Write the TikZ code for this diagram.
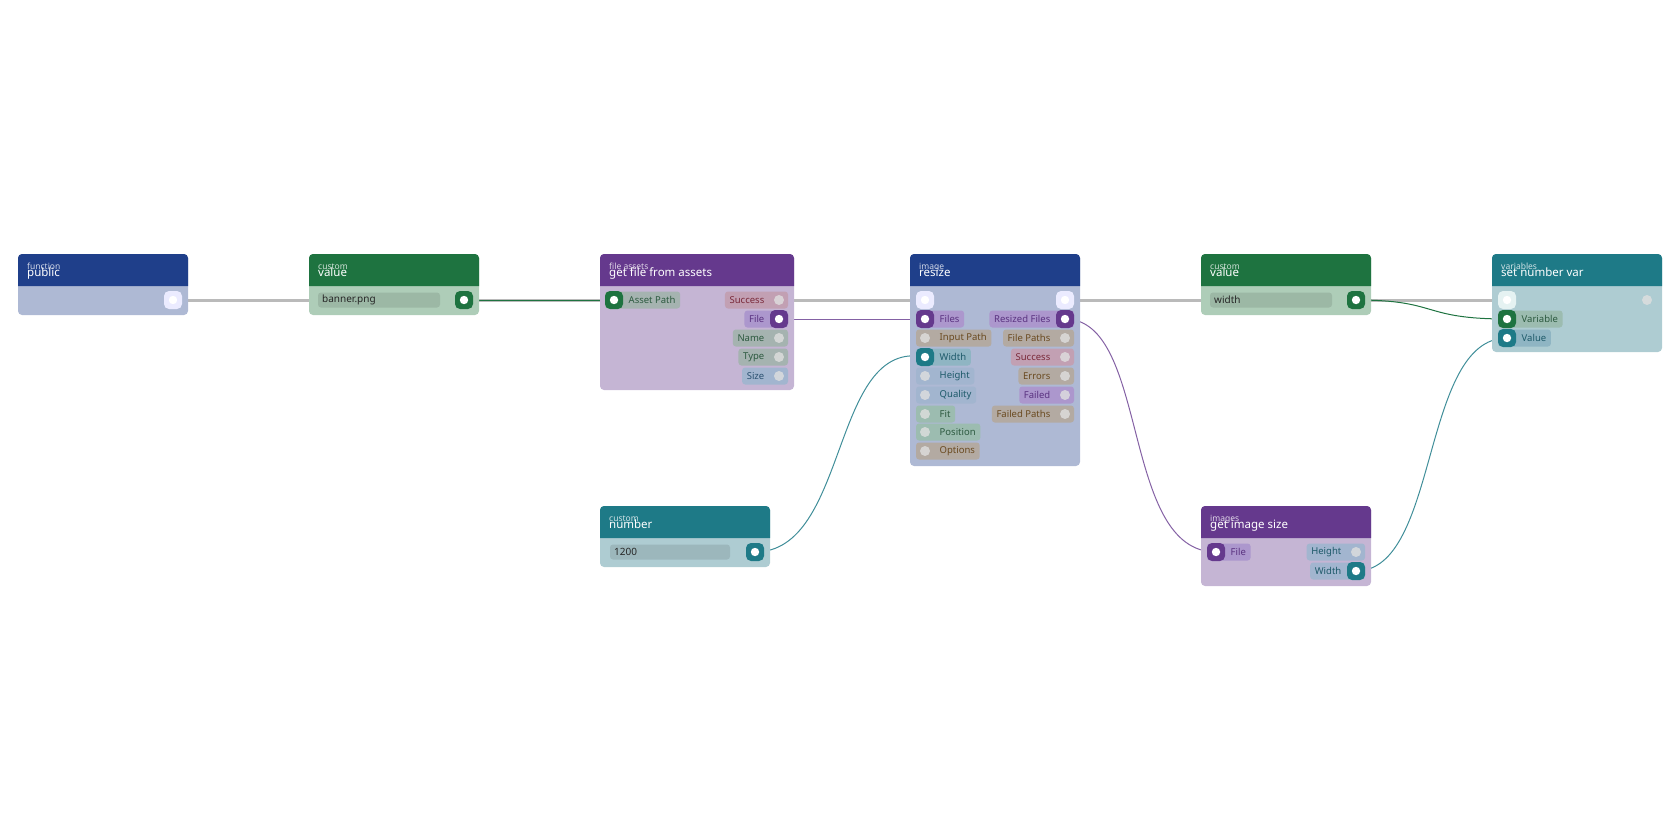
\documentclass[tikz,border=0pt]{standalone}
\usepackage{fontspec}
\setmainfont{Noto Sans}
\usetikzlibrary{calc}
\pgfdeclarelayer{edges}\pgfdeclarelayer{bodies}\pgfdeclarelayer{pills}
\pgfsetlayers{edges,bodies,pills,main}
\definecolor{hblue}{HTML}{1F3F8A}\definecolor{bblue}{HTML}{AEB9D4}
\definecolor{hgreen}{HTML}{1E7340}\definecolor{bgreen}{HTML}{AECDB8}
\definecolor{hpurp}{HTML}{65398D}\definecolor{bpurp}{HTML}{C5B5D4}
\definecolor{hteal}{HTML}{1E7A87}\definecolor{bteal}{HTML}{AECCD2}
\definecolor{pred}{HTML}{C2A0B3}\definecolor{tred}{HTML}{7A2A3A}
\definecolor{ppur}{HTML}{AC97CD}\definecolor{tpur}{HTML}{5A3280}
\definecolor{pgrn}{HTML}{A5B3B0}\definecolor{tgrn}{HTML}{2D5A40}
\definecolor{pblu}{HTML}{A2B5CF}\definecolor{tblu}{HTML}{2A5070}
\definecolor{ptan}{HTML}{B3AAA2}\definecolor{ttan}{HTML}{6A4A20}
\definecolor{ptea}{HTML}{8FB5C3}\definecolor{ttea}{HTML}{1E5A6A}
\definecolor{pgrt}{HTML}{9CBCB0}
\tikzset{
 ptxt/.style={font=\fontsize{9.5}{10}\selectfont, inner xsep=4.5pt, inner ysep=0pt},
 port/.style={draw=none, fill=#1, rounded corners=5pt, minimum size=18pt, inner sep=0,
   path picture={\fill[white] (path picture bounding box.center) circle (4.2pt);}},
 dead/.style={circle, fill=white!75!gray, minimum size=10pt, inner sep=0, opacity=0.8},
 wire/.style={line width=1pt},
 exec/.style={line width=3pt, color=black!27},
}
% body: name x1 y1 x2 y2 head body sub title
\newcommand\nbox[9]{%
 \begin{pgfonlayer}{bodies}
 \fill[#7, rounded corners=4pt] (#2,#3) rectangle (#4,#5);
 \fill[#6] (#2,#3+32) {[rounded corners=4pt] -- (#2,#3) -- (#4,#3)} -- (#4,#3+32) -- cycle;
 \end{pgfonlayer}
 \node[anchor=base west, inner sep=0, text=white!80!#6, font=\fontsize{8.5}{9}\selectfont] at (#2+9,#3+15.5) {#8};
 \node[anchor=base west, inner sep=0, text=white, font=\fontsize{11.5}{12}\selectfont] (#1) at (#2+9,#3+22) {#9};}
% left pin: name x y text pill textcol portstyle
\newcommand\lpin[7]{%
 \node[ptxt, text=#6, anchor=west] (#1t) at (#2+10,#3) {#4};
 \begin{pgfonlayer}{pills}\fill[#5, rounded corners=3pt] (#2-9,#3-8.5) rectangle ($(#1t.east)+(0,8.5)$);\end{pgfonlayer}
 \node[#7] (#1) at (#2,#3) {};}
\newcommand\rpin[7]{%
 \node[ptxt, text=#6, anchor=east] (#1t) at (#2-10,#3) {#4};
 \begin{pgfonlayer}{pills}\fill[#5, rounded corners=3pt] (#2+9,#3-8.5) rectangle ($(#1t.west)+(0,8.5)$);\end{pgfonlayer}
 \node[#7] (#1) at (#2,#3) {};}
\newcommand\field[5]{% name x1 x2 y text
 \begin{pgfonlayer}{pills}\fill[black, opacity=0.1, rounded corners=3pt] (#2,#4-7.5) rectangle (#3,#4+7.5);\end{pgfonlayer}
 \node[anchor=west, inner sep=0, text=black!85, font=\fontsize{10}{10}\selectfont] (#1) at (#2+4,#4) {#5};}
\begin{document}
\begin{tikzpicture}[x=1pt,y=-1pt]
\useasboundingbox (0,0) rectangle (1680,840);
% public
\nbox{pub}{18}{254}{188}{315}{hblue}{bblue}{function}{public}
\node[port=white!92!blue] (pubx) at (173,300) {};
% value 1
\nbox{val1}{309}{254}{479}{315}{hgreen}{bgreen}{custom}{value}
\field{val1f}{318}{440}{300}{banner.png}
\node[port=hgreen] (val1o) at (464,300) {};
% get file
\nbox{gf}{600}{254}{794}{390}{hpurp}{bpurp}{file assets}{get file from assets}
\lpin{gfa}{614}{300}{Asset Path}{pgrn}{tgrn}{port=hgreen}
\rpin{gfs}{779}{300}{Success}{pred}{tred}{dead}
\rpin{gff}{779}{319}{File}{ppur}{tpur}{port=hpurp}
\rpin{gfn}{779}{338}{Name}{pgrn}{tgrn}{dead}
\rpin{gft}{779}{357}{Type}{pgrn}{tgrn}{dead}
\rpin{gfz}{779}{376}{Size}{pblu}{tblu}{dead}
% number
\nbox{num}{600}{506}{770}{567}{hteal}{bteal}{custom}{number}
\field{numf}{610}{730}{552}{1200}
\node[port=hteal] (numo) at (755,552) {};
% resize
\nbox{rs}{910}{254}{1080}{466}{hblue}{bblue}{image}{resize}
\node[port=white!92!blue] (rsxi) at (925,300) {};
\node[port=white!92!blue] (rsxo) at (1065,300) {};
\lpin{rsf}{925}{319}{Files}{ppur}{tpur}{port=hpurp}
\lpin{rsi}{925}{338}{Input Path}{ptan}{ttan}{dead}
\lpin{rsw}{925}{357}{Width}{ptea}{ttea}{port=hteal}
\lpin{rsh}{925}{376}{Height}{pblu}{ttea}{dead}
\lpin{rsq}{925}{395}{Quality}{pblu}{ttea}{dead}
\lpin{rsfi}{925}{414}{Fit}{pgrt}{tgrn}{dead}
\lpin{rsp}{925}{432}{Position}{pgrt}{tgrn}{dead}
\lpin{rso}{925}{451}{Options}{ptan}{ttan}{dead}
\rpin{rsrf}{1065}{319}{Resized Files}{ppur}{tpur}{port=hpurp}
\rpin{rsfp}{1065}{338}{File Paths}{ptan}{ttan}{dead}
\rpin{rss}{1065}{357}{Success}{pred}{tred}{dead}
\rpin{rse}{1065}{376}{Errors}{ptan}{ttan}{dead}
\rpin{rsfa}{1065}{395}{Failed}{ppur}{tpur}{dead}
\rpin{rsfpp}{1065}{414}{Failed Paths}{ptan}{ttan}{dead}
% value 2
\nbox{val2}{1201}{254}{1371}{315}{hgreen}{bgreen}{custom}{value}
\field{val2f}{1210}{1332}{300}{width}
\node[port=hgreen] (val2o) at (1356,300) {};
% set number var
\nbox{snv}{1492}{254}{1662}{352}{hteal}{bteal}{variables}{set number var}
\node[port=white!90!teal] (snvx) at (1507,300) {};
\node[dead] (snvxo) at (1647,300) {};
\lpin{snvv}{1507}{319}{Variable}{pgrt}{tgrn}{port=hgreen}
\lpin{snvl}{1507}{338}{Value}{ptea}{ttea}{port=hteal}
% get image size
\nbox{gis}{1201}{506}{1371}{586}{hpurp}{bpurp}{images}{get image size}
\lpin{gisf}{1216}{552}{File}{ppur}{tpur}{port=hpurp}
\rpin{gish}{1356}{552}{Height}{pblu}{ttea}{dead}
\rpin{gisw}{1356}{571}{Width}{pblu}{ttea}{port=hteal}
% connectors
\begin{pgfonlayer}{edges}
\draw[exec] (pubx) -- (rsxi);
\draw[exec] (rsxo) -- (snvx);
\draw[wire, hgreen] (val1o) -- (gfa);
\draw[wire, hpurp!80] (gff) -- (rsf);
\draw[wire, hteal!85] (numo.center) .. controls (850,552) and (830,338) .. (rsw.center);
\draw[wire, hpurp!80] (rsrf.center) .. controls (1150,319) and (1120,552) .. (gisf.center);
\draw[wire, hgreen] (val2o.center) .. controls (1440,300) and (1420,319) .. (snvv.center);
\draw[wire, hteal!85] (gisw.center) .. controls (1440,571) and (1420,338) .. (snvl.center);
\end{pgfonlayer}
\end{tikzpicture}
\end{document}
